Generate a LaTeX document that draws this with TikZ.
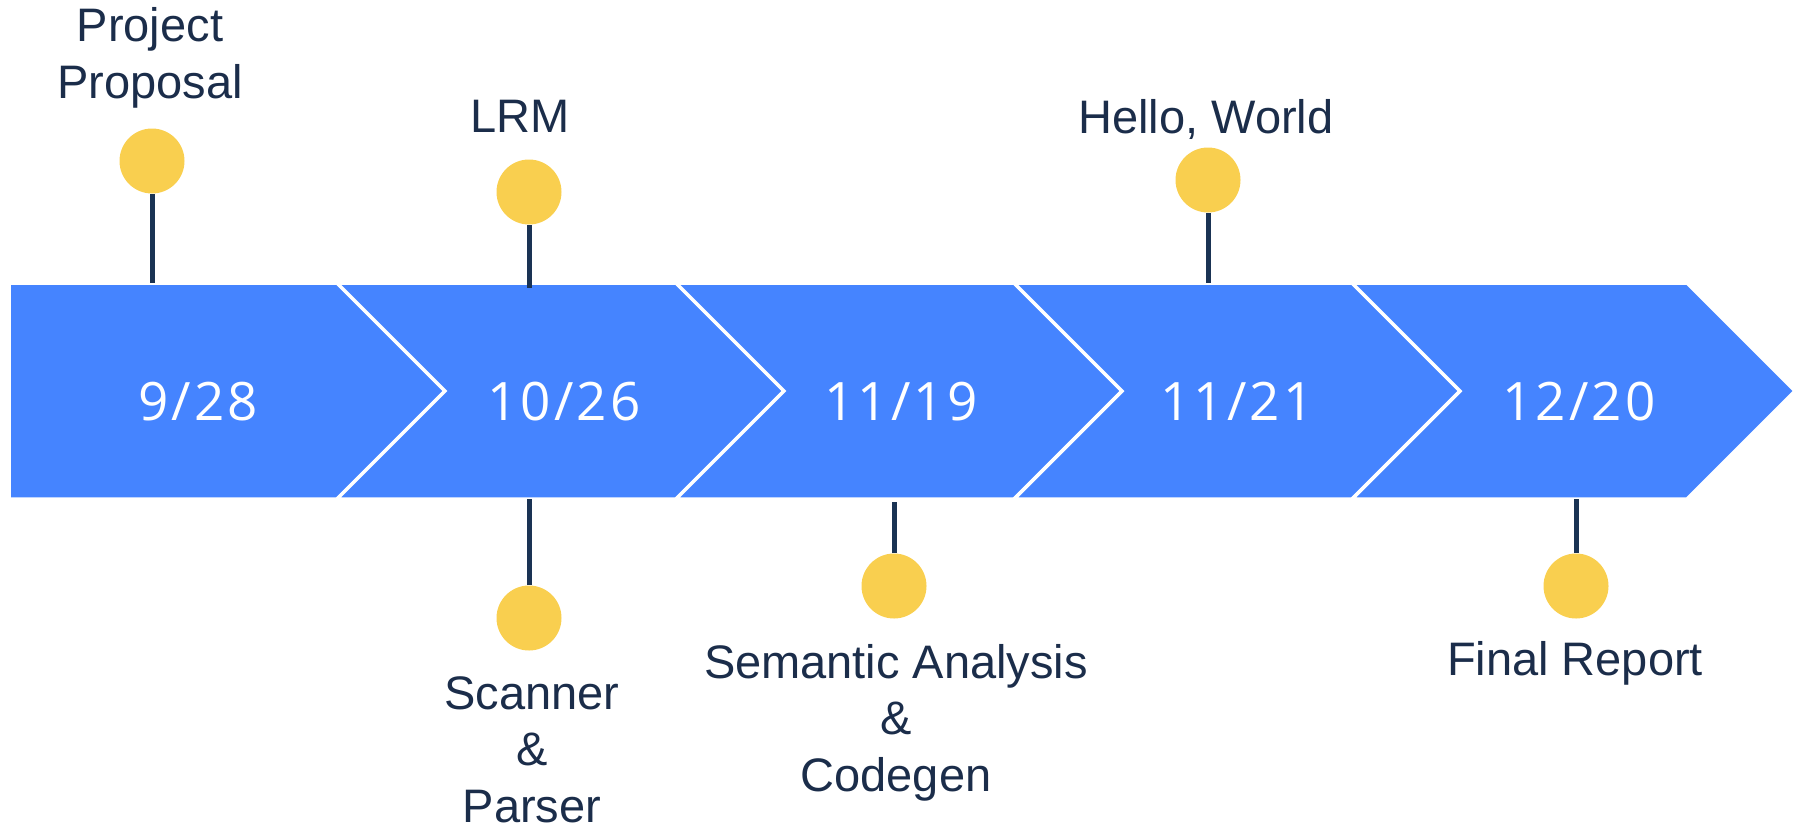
\documentclass[tikz,border=0pt]{standalone}
\usepackage{fontspec}
\setmainfont{Liberation Sans}
\newfontfamily\datefont[LetterSpace=6]{Open Sans}
\usetikzlibrary{shapes.geometric}

\definecolor{bandblue}{HTML}{4584FF}
\definecolor{pinyellow}{HTML}{F9CF4F}
\definecolor{inknavy}{HTML}{1B2D4A}
\definecolor{stemnavy}{HTML}{1A3354}

\tikzset{
  segment/.style={fill=bandblue, draw=white, line width=1.4pt, line join=miter},
  pin/.style={circle, fill=pinyellow, inner sep=0pt, minimum size=26pt},
  stem/.style={draw=stemnavy, line width=2pt},
  milestone/.style={text=inknavy, align=center, inner sep=0pt, anchor=base,
    font=\fontsize{18.8}{22.6}\selectfont},
  datetext/.style={text=white, inner sep=0pt, anchor=base,
    font=\datefont\fontsize{21.2}{24}\selectfont}
}

\begin{document}
\begin{tikzpicture}[x=0.4pt,y=0.4pt,yscale=-1,xscale=1]
\useasboundingbox (0,0) rectangle (1805,827); %set diagram to the page size

%Shape: Chevron [id:seg1]
\draw [segment] (9,283) -- (337,283) -- (445,391) -- (337,499) -- (9,499) -- cycle ;
%Shape: Chevron [id:seg2]
\draw [segment] (337,283) -- (676,283) -- (784,391) -- (676,499) -- (337,499) -- (445,391) -- cycle ;
%Shape: Chevron [id:seg3]
\draw [segment] (676,283) -- (1014,283) -- (1122,391) -- (1014,499) -- (676,499) -- (784,391) -- cycle ;
%Shape: Chevron [id:seg4]
\draw [segment] (1014,283) -- (1352,283) -- (1460,391) -- (1352,499) -- (1014,499) -- (1122,391) -- cycle ;
%Shape: Chevron [id:seg5]
\draw [segment] (1352,283) -- (1687,283) -- (1795,391) -- (1687,499) -- (1352,499) -- (1460,391) -- cycle ;

% Date Nodes
\node [datetext] (d0928) at (198,420) {9/28};
\node [datetext] (d1026) at (564,420) {10/26};
\node [datetext] (d1119) at (901,420) {11/19};
\node [datetext] (d1121) at (1237,420) {11/21};
\node [datetext] (d1220) at (1579,420) {12/20};

% Pins
\node [pin] (propdot) at (152,161) {};
\node [pin] (lrmdot) at (529,192) {};
\node [pin] (hellodot) at (1208,180) {};
\node [pin] (scandot) at (529,618) {};
\node [pin] (semdot) at (894,586) {};
\node [pin] (finaldot) at (1576,586) {};

% Stem ends on the band
\coordinate (propfoot) at (152,283);
\coordinate (lrmfoot) at (529,288);
\coordinate (hellofoot) at (1208,283);
\coordinate (scanfoot) at (529,499);
\coordinate (semfoot) at (894,502);
\coordinate (finalfoot) at (1576,499);

% Stems
\draw [stem] (propdot.south) -- (propfoot);
\draw [stem] (lrmdot.south) -- (lrmfoot);
\draw [stem] (hellodot.south) -- (hellofoot);
\draw [stem] (scandot.north) -- (scanfoot);
\draw [stem] (semdot.north) -- (semfoot);
\draw [stem] (finaldot.north) -- (finalfoot);

% Text Node (base = last line)
\node [milestone] (proptext) at (150,98) {Project\\Proposal};
% Text Node
\node [milestone] (lrmtext) at (520,132) {LRM};
% Text Node
\node [milestone] (hellotext) at (1206,133) {Hello, World};
% Text Node
\node [milestone] (scantext) at (532,822) {Scanner\\\&\\Parser};
% Text Node
\node [milestone] (semtext) at (896,791) {Semantic Analysis\\\&\\Codegen};
% Text Node
\node [milestone] (finaltext) at (1575,675) {Final Report};

\end{tikzpicture}
\end{document}
